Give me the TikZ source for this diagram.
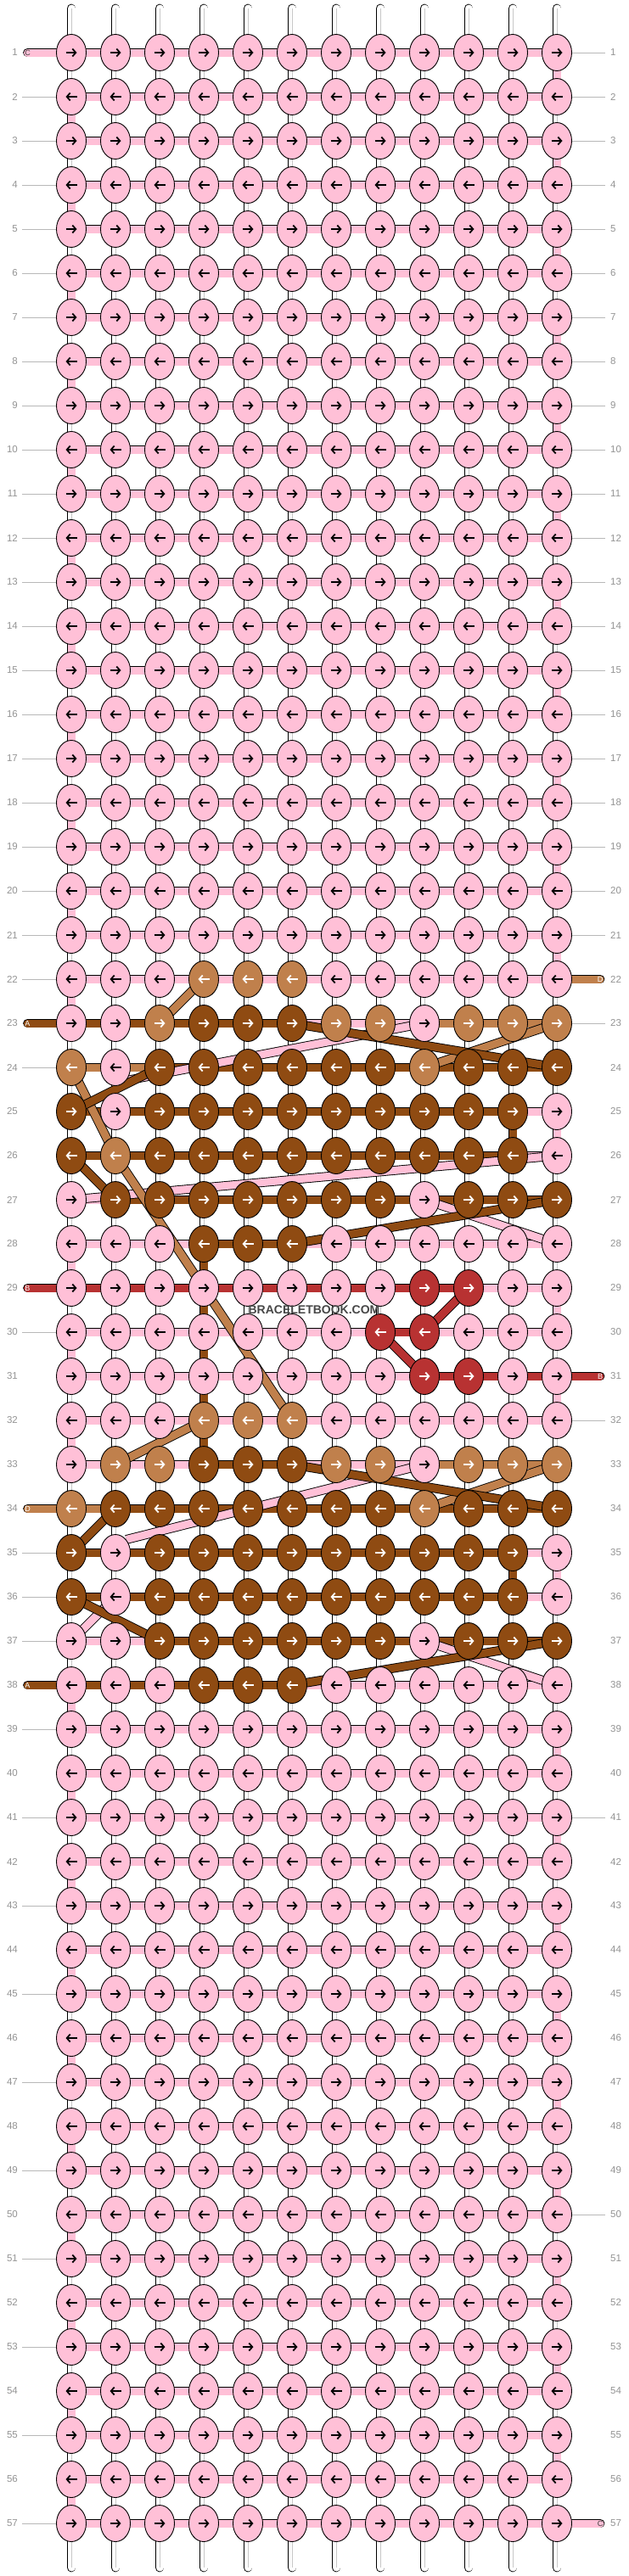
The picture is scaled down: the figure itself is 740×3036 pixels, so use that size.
\documentclass[tikz,border=0pt]{standalone}
\usepackage{fontspec}
\setmainfont{Liberation Sans}
\usetikzlibrary{shapes.geometric,arrows.meta,backgrounds}

\definecolor{kp}{RGB}{255,192,215}
\definecolor{kl}{RGB}{192,128,76}
\definecolor{kd}{RGB}{143,75,18}
\definecolor{kr}{RGB}{184,50,50}
\colorlet{ap}{black}
\colorlet{al}{white}
\colorlet{ad}{white}
\colorlet{ar}{white}

\tikzset{
  knotnode/.style={ellipse, draw, line width=0.9pt, minimum width=35pt, minimum height=43pt, inner sep=0pt},
  knotarrow/.style={line width=1.8pt, -{Straight Barb[length=4pt,width=9pt]}},
  thread/.style={double=#1, double distance=9pt, line width=0.9pt},
  core/.style={draw=black!22, line width=0.8pt},
  rownum/.style={text=black!42, font=\fontsize{11.5}{13}\selectfont, inner sep=0pt},
  rowline/.style={draw=black!28, line width=0.8pt},
  endtag/.style={font=\fontsize{9}{10}\selectfont, inner sep=0pt},
}

% one knot with its arrow, direction from the row
\newcommand{\bknot}[3]{%
  \node[knotnode, fill=k#3] (k-#1-#2) at ({84+52*#2},{52*#1+10}) {};
  \ifodd#1\relax
    \draw[knotarrow, draw=a#3] ([xshift=-6.5pt]k-#1-#2.center) -- ([xshift=6.5pt]k-#1-#2.center);
  \else
    \draw[knotarrow, draw=a#3] ([xshift=6.5pt]k-#1-#2.center) -- ([xshift=-6.5pt]k-#1-#2.center);
  \fi
}

\begin{document}
\begin{tikzpicture}[x=1pt, y=-1pt]
    \useasboundingbox (0,0) rectangle (740,3036);
    \begin{scope}[on background layer]
        \fill[white] (0,0) rectangle (740,3036);
    \end{scope}

    % plain pink rows
    \foreach \r in {1,...,21,39,40,...,57} {
        \foreach \c in {0,...,11} { \bknot{\r}{\c}{p} }
        \begin{scope}[on background layer]
            \foreach \c in {0,...,10} {
                \pgfmathtruncatemacro\n{\c+1}
                \draw[thread=kp] (k-\r-\c.center) -- (k-\r-\n.center);
            }
        \end{scope}
    }

    % coloured rows: knots / weft pieces
    \foreach \r/\ks/\hs in {
        22/{p,p,p,l,l,l,p,p,p,p,p,p}/{p,p,p,p,p,p,p,p,p,p,p},
        23/{p,p,l,d,d,d,l,l,p,l,l,l}/{d,d,d,d,d,p,p,p,l,l,l},
        24/{l,p,d,d,d,d,d,d,l,d,d,d}/{l,l,d,d,d,d,d,d,d,d,d},
        25/{d,p,d,d,d,d,d,d,d,d,d,p}/{d,d,d,d,d,d,d,d,d,d,p},
        26/{d,l,d,d,d,d,d,d,d,d,d,p}/{d,d,d,d,d,d,d,d,d,d,p},
        27/{p,d,d,d,d,d,d,d,p,d,d,d}/{p,d,d,d,d,d,d,d,d,d,d},
        28/{p,p,p,d,d,d,p,p,p,p,p,p}/{p,p,p,d,d,p,p,p,p,p,p},
        29/{p,p,p,p,p,p,p,p,r,r,p,p}/{r,r,r,r,r,r,r,r,r,p,p},
        30/{p,p,p,p,p,p,p,r,r,p,p,p}/{p,p,p,p,p,p,p,r,p,p,p},
        31/{p,p,p,p,p,p,p,p,r,r,p,p}/{p,p,p,p,p,p,p,p,r,r,r},
        32/{p,p,p,l,l,l,p,p,p,p,p,p}/{p,p,p,p,p,p,p,p,p,p,p},
        33/{p,l,l,d,d,d,l,l,p,l,l,l}/{p,p,p,d,d,p,p,p,l,l,l},
        34/{l,d,d,d,d,d,d,d,l,d,d,d}/{l,d,d,d,d,d,d,d,d,d,d},
        35/{d,p,d,d,d,d,d,d,d,d,d,p}/{d,d,d,d,d,d,d,d,d,d,p},
        36/{d,p,d,d,d,d,d,d,d,d,d,p}/{d,d,d,d,d,d,d,d,d,d,p},
        37/{p,p,d,d,d,d,d,d,p,d,d,d}/{p,p,d,d,d,d,d,d,d,d,d},
        38/{p,p,p,d,d,d,p,p,p,p,p,p}/{d,d,d,d,d,p,p,p,p,p,p}} {
        \foreach \k [count=\c from 0] in \ks { \bknot{\r}{\c}{\k} }
        \begin{scope}[on background layer]
            \foreach \h [count=\c from 0] in \hs {
                \pgfmathtruncatemacro\n{\c+1}
                \draw[thread=k\h] (k-\r-\c.center) -- (k-\r-\n.center);
            }
        \end{scope}
    }

    \foreach \c in {0,...,11} {
        \coordinate (top-\c) at ({84+52*\c},10);
        \coordinate (bot-\c) at ({84+52*\c},3026);
    }

    \begin{scope}[on background layer]
        % warp threads
        \foreach \r in {1,...,56} {
            \pgfmathtruncatemacro\n{\r+1}
            \foreach \c in {0,...,11} {
                \draw[thread=white] (k-\r-\c.center) -- (k-\n-\c.center);
                \draw[core] (k-\r-\c.center) -- (k-\n-\c.center);
            }
        }
        \foreach \c in {0,...,11} {
            \draw[thread=white, line cap=round] (top-\c) -- (k-1-\c.center);
            \draw[core] (top-\c) -- (k-1-\c.center);
            \draw[thread=white, line cap=round] (bot-\c) -- (k-57-\c.center);
            \draw[core] (bot-\c) -- (k-57-\c.center);
        }
        % weft turning at the edges
        \foreach \r in {1,3,...,21,25,29,31,35,39,41,...,55} {
            \pgfmathtruncatemacro\n{\r+1}
            \draw[thread=kp] (k-\r-11.center) -- (k-\n-11.center);
        }
        \foreach \r in {2,4,...,22,28,30,32,38,40,...,56} {
            \pgfmathtruncatemacro\n{\r+1}
            \draw[thread=kp] (k-\r-0.center) -- (k-\n-0.center);
        }
        \foreach \a/\b in {25-10/26-10, 35-10/36-10, 28-3/29-3, 29-3/30-3, 30-3/31-3, 31-3/32-3, 32-3/33-3}
            \draw[thread=kd] (k-\a.center) -- (k-\b.center);
        % floating strands
        \draw[thread=kp] (k-24-1.south east) -- (k-23-8.center);
        \draw[thread=kp] (k-35-1.north east) -- (k-33-8.center);
        \foreach \a/\b/\col in {26-11/27-0/p, 27-8/28-11/p, 36-1/37-0/p, 37-8/38-11/p,
                22-3/23-2/l, 23-11/24-8/l, 24-0/26-1/l, 26-1/32-5/l, 32-3/33-1/l, 33-11/34-8/l,
                23-5/24-11/d, 25-0/24-2/d, 26-0/27-1/d, 28-5/27-11/d, 33-5/34-11/d, 34-1/35-0/d, 36-0/37-2/d, 38-5/37-11/d,
                29-9/30-8/r, 30-7/31-8/r}
            \draw[thread=k\col] (k-\a.center) -- (k-\b.center);
    \end{scope}

    % loose ends
    \foreach \r/\col/\txt/\tc in {1/p/C/black!75, 23/d/A/white, 29/r/B/white, 34/l/D/white, 38/d/A/white} {
        \coordinate (sl-\r) at (32.5,{52*\r+10});
        \begin{scope}[on background layer]
            \draw[thread=k\col, line cap=round] (sl-\r) -- (k-\r-0.center);
        \end{scope}
        \node[endtag, text=\tc] (tl-\r) at (sl-\r) {\txt};
    }
    \foreach \r/\col/\txt/\tc in {22/l/D/white, 31/r/B/white, 57/p/C/black!75} {
        \coordinate (sr-\r) at (707,{52*\r+10});
        \begin{scope}[on background layer]
            \draw[thread=k\col, line cap=round] (k-\r-11.center) -- (sr-\r);
        \end{scope}
        \node[endtag, text=\tc] (tr-\r) at (sr-\r) {\txt};
    }

    % row numbers
    \foreach \r in {1,...,57} {
        \node[rownum, anchor=east] (ln-\r) at (21,{52*\r+10}) {\r};
        \node[rownum, anchor=west] (rn-\r) at (719,{52*\r+10}) {\r};
    }
    \begin{scope}[on background layer]
        \foreach \r in {2,...,22,24,...,28,30,...,33,35,36,37,39,...,57}
            \draw[rowline] ([xshift=5pt]ln-\r.east) -- (k-\r-0.center);
        \foreach \r in {1,...,21,23,...,30,32,...,56}
            \draw[rowline] (k-\r-11.center) -- ([xshift=-6pt]rn-\r.west);
    \end{scope}

    \node[font=\bfseries\fontsize{14}{16}\selectfont, text=black!72] (mark) at (370,1544) {BRACELETBOOK.COM};
\end{tikzpicture}
\end{document}
